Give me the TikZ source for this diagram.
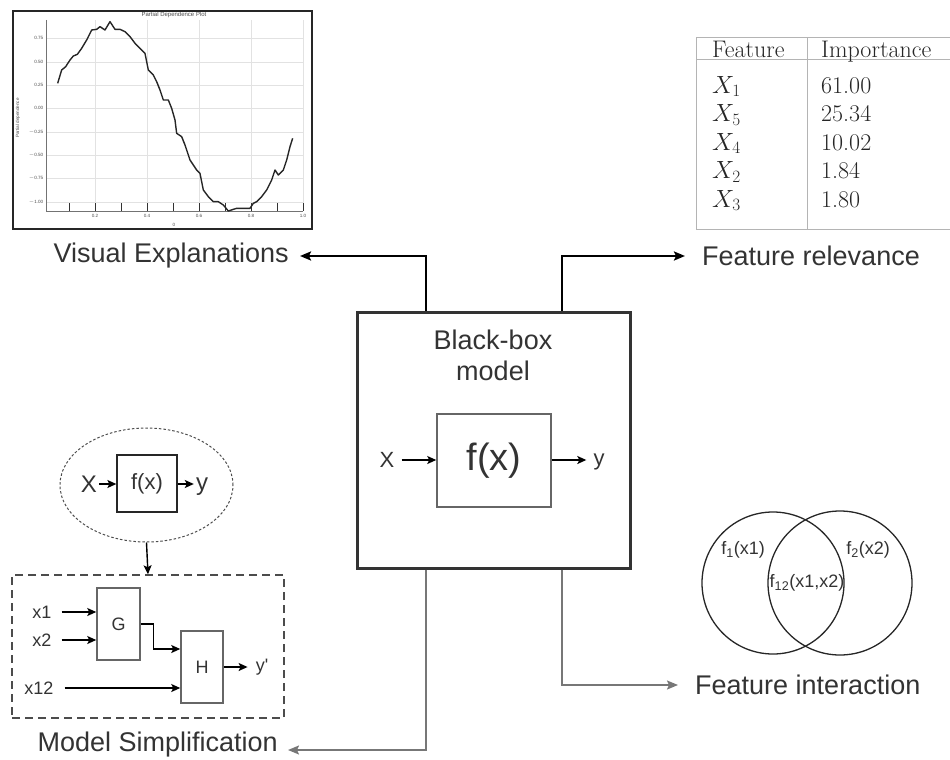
\documentclass[tikz,border=0pt]{standalone}
\usepackage{fontspec}
\newfontfamily\arial{Liberation Sans}
\usetikzlibrary{arrows.meta,shapes.geometric}
\definecolor{txt}{HTML}{333333}
\definecolor{boxc}{HTML}{333333}
\definecolor{grayline}{HTML}{777777}
\definecolor{innerc}{HTML}{666666}
\definecolor{tabline}{HTML}{B4B4B4}
\definecolor{gridc}{HTML}{E2E2E2}
\tikzset{
  lbl/.style={font=\arial\fontsize{27}{31}\selectfont, text=txt},
  small/.style={font=\arial\fontsize{18}{21}\selectfont, text=txt},
  mid/.style={font=\arial\fontsize{22}{25}\selectfont, text=txt},
  tab/.style={font=\fontsize{24}{27}\selectfont, text=black!85, inner sep=0pt},
  tick/.style={font=\arial\fontsize{4.6}{5}\selectfont, text=black!70, inner sep=0.5pt},
  blk/.style={draw=innerc, line width=1.5pt, inner sep=0pt},
  conn/.style={-{Stealth[length=11pt,width=9pt,inset=2pt]}, line width=2.4pt},
  connlo/.style={-{Stealth[length=11pt,width=9pt,inset=2pt]}, line width=1.6pt, draw=grayline},
  thin/.style={-{Stealth[length=9pt,width=8pt,inset=2pt]}, line width=1.4pt},
}
\begin{document}
\begin{tikzpicture}[x=1pt,y=-1pt]
\useasboundingbox (0,0) rectangle (950,760);

% ---------- partial dependence plot ----------
\foreach \gx in {95,147,199,251,303}
  \draw[gridc, line width=0.5pt] (\gx,20) -- (\gx,211);
\foreach \gy in {38,62,85,108,132,155,178,202}
  \draw[gridc, line width=0.5pt] (46,\gy) -- (303,\gy);
\draw[black!55, line width=0.6pt] (46,20) -- (46,211) -- (303,211);
\foreach \gx in {69,95,121,147,173,199,225,251,277,303}
  \draw[black!80, line width=0.8pt] (\gx,203) -- (\gx,211);
\foreach \gy/\v in {38/0.75,62/0.50,85/0.25,108/0.00,132/$-$0.25,155/$-$0.50,178/$-$0.75,202/$-$1.00}
  \node[tick, anchor=east] at (44,\gy) {\v};
\foreach \gx/\v in {95/0.2,147/0.4,199/0.6,251/0.8,303/1.0}
  \node[tick] at (\gx,216) {\v};
\node[tick] at (174,225) {0};
\node[tick, rotate=90] at (18,118) {Partial dependence};
\node[font=\arial\fontsize{6}{7}\selectfont, text=black!70] at (174,15) {Partial Dependence Plot};
\begin{scope}[scale=1/3]
\draw[black!85, line width=1.4pt, line join=round]
  (173,250) -- (185,210) -- (197,200) -- (210,180) -- (220,168) -- (232,163)
  -- (245,145) -- (260,120) -- (275,90) -- (290,88) -- (300,80) -- (315,90)
  -- (330,65) -- (345,88) -- (360,88) -- (375,95) -- (390,110) -- (405,130)
  -- (420,145) -- (435,160) -- (445,210) -- (460,225) -- (470,245) -- (480,270)
  -- (490,300) -- (505,300) -- (515,325) -- (525,360) -- (530,400) -- (545,410)
  -- (555,435) -- (570,480) -- (590,510) -- (600,520) -- (610,570) -- (625,590)
  -- (640,605) -- (655,605) -- (670,615) -- (685,633) -- (700,628) -- (710,625)
  -- (730,625) -- (750,625) -- (760,610) -- (770,605) -- (785,590) -- (800,570)
  -- (815,540) -- (825,510) -- (835,525) -- (850,510) -- (860,480) -- (870,440)
  -- (878,415);
\end{scope}
\draw[black!85, line width=2pt] (13,11) rectangle (312,229);

% ---------- feature importance table ----------
\draw[tabline, line width=1pt] (950,38) -- (696,38) -- (696,229) -- (950,229);
\draw[tabline, line width=1pt] (696,60) -- (950,60);
\draw[tabline, line width=1pt] (807,38) -- (807,229);
\node[tab, anchor=base west] (thf) at (712,57) {Feature};
\node[tab, anchor=base west] (thi) at (821,57) {Importance};
\foreach \r/\by/\k/\val in {1/93/1/61.00, 2/121.5/5/25.34, 3/150/4/10.02, 4/178.5/2/1.84, 5/207/3/1.80}{
  \node[tab, anchor=base west] (tf\r) at (712,\by) {$X_{\k}$};
  \node[tab, anchor=base west] (ti\r) at (821,\by) {\val};
}

% ---------- black-box model ----------
\node[draw=boxc, line width=3pt, minimum width=273pt, minimum height=256pt, inner sep=0pt] (bb) at (493.5,440) {};
\node[lbl, align=center] (bbt) at (493,355) {Black-box\\model};
\node[blk, minimum width=114pt, minimum height=93pt, font=\arial\fontsize{38}{40}\selectfont, text=txt] (fx) at (494,460.5) {f(x)};
\node[mid, inner xsep=7pt] (bX) at (387,460) {X};
\node[mid, inner xsep=7pt] (by) at (599,462) {y};
\draw[thin] (bX.east) -- (fx.west |- bX.east);
\draw[thin] (fx.east |- bX.east) -- (bX.east -| by.west);

% ---------- outputs ----------
\node[lbl, anchor=east, inner xsep=11pt] (ve) at (300,256) {Visual Explanations};
\node[lbl, anchor=west, inner xsep=17pt] (fr) at (685,256) {Feature relevance};
\node[lbl, anchor=west, inner xsep=17pt] (fi) at (678,685) {Feature interaction};
\node[lbl, anchor=east, inner xsep=10pt] (ms) at (288,745) {Model Simplification};
\draw[conn] ([xshift=-67.5pt]bb.north) |- (ve.east);
\draw[conn] ([xshift=68.5pt]bb.north) |- (fr.west);
\draw[connlo] ([xshift=-67.5pt]bb.south) |- ([yshift=-5pt]ms.east);
\draw[connlo] ([xshift=68.5pt]bb.south) |- (fi.west);

% ---------- feature interaction (Venn) ----------
\node[draw=black!85, line width=1.3pt, circle, minimum size=142pt, inner sep=0pt] (c1) at (773,583) {};
\node[draw=black!85, line width=1.3pt, circle, minimum size=144pt, inner sep=0pt] (c2) at (840,583) {};
\node[small] (v1) at (743,550) {f\textsubscript{1}(x1)};
\node[small] (v2) at (868,550) {f\textsubscript{2}(x2)};
\node[small] (v12) at (807,583) {f\textsubscript{12}(x1,x2)};

% ---------- model simplification ----------
\node[draw=black!70, line width=1pt, dash pattern=on 2.5pt off 2pt, ellipse, minimum width=173pt, minimum height=114pt, inner sep=0pt] (ell) at (146.5,485) {};
\node[draw=black!85, line width=1.3pt, minimum width=60pt, minimum height=57pt, inner sep=0pt, mid] (sfx) at (147,483.5) {f(x)};
\node[font=\arial\fontsize{24}{26}\selectfont, text=txt, inner xsep=2pt] (sX) at (89,484) {X};
\node[font=\arial\fontsize{24}{26}\selectfont, text=txt, inner xsep=2pt] (sy) at (202,487) {y};
\draw[thin] (sX.east) -- (sfx.west |- sX.east);
\draw[thin] (sfx.east |- sX.east) -- (sX.east -| sy.west);

\node[draw=black!70, line width=1.5pt, dash pattern=on 8pt off 5pt, minimum width=272pt, minimum height=143pt, inner sep=0pt] (dbox) at (148,646.5) {};
\draw[thin] (ell.south) -- (dbox.north);

\node[blk, minimum width=43pt, minimum height=72pt, small] (G) at (118.5,624) {G};
\node[blk, minimum width=42pt, minimum height=72pt, small] (H) at (202,667) {H};
\node[small, inner xsep=10pt] (x1) at (42,612) {x1};
\node[small, inner xsep=10pt] (x2) at (42,640) {x2};
\node[small, inner xsep=11pt] (x12) at (39,688) {x12};
\node[small, inner xsep=8pt] (yp) at (262,667) {y'};
\draw[thin] (x1.east) -- (x1.east -| G.west);
\draw[thin] (x2.east) -- (x2.east -| G.west);
\draw[thin] (x12.east) -- (x12.east -| H.west);
\draw[thin] (G.east) -- ++(13,0) |- ([yshift=18pt]H.west);
\draw[thin] (H.east) -- (H.east -| yp.west);
\end{tikzpicture}
\end{document}
